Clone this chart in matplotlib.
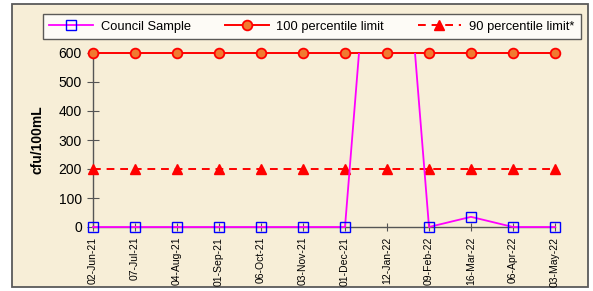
import matplotlib
matplotlib.use("Agg")
import matplotlib.pyplot as plt
from matplotlib.patches import Rectangle
import numpy as np

dates = ["02-Jun-21", "07-Jul-21", "04-Aug-21", "01-Sep-21", "06-Oct-21", "03-Nov-21",
         "01-Dec-21", "12-Jan-22", "09-Feb-22", "16-Mar-22", "06-Apr-22", "03-May-22"]
council = [0, 0, 0, 0, 0, 0, 0, 1800, 0, 35, 0, 0]
limit100 = [600] * 12
limit90 = [200] * 12
yticks = [0, 100, 200, 300, 400, 500, 600]

plt.rcParams['font.family'] = ['Liberation Sans', 'DejaVu Sans']

W, H = 593, 291
fig = plt.figure(figsize=(W / 100, H / 100), dpi=100)
fig.patch.set_facecolor('white')

bg = '#F7EED7'
# outer chart area with border
fig.patches.append(Rectangle((12 / W, 1 - 287 / H), 576 / W, 283 / H, transform=fig.transFigure,
                             facecolor=bg, edgecolor='#5a5a5a', lw=1.3, zorder=-5))

ax = fig.add_axes([93 / W, 1 - 227 / H, 462 / W, 174 / H])
ax.set_zorder(1)
ax.set_facecolor('none')
x = np.arange(len(dates))

clip = Rectangle((-0.1, -0.2), 1.2, 1.2, transform=ax.transAxes, visible=False)
ax.add_patch(clip)

ln, = ax.plot(x, council, color='#FF00FF', lw=1.3, marker='s', ms=7, mfc='none',
              mec='#0000FF', mew=1.0, label='Council Sample', zorder=4)
ln.set_clip_path(clip)
ax.plot(x, limit100, color='#FF0000', lw=1.4, marker='o', ms=7, mfc='#F07A30',
        mec='#FF0000', mew=1.3, label='100 percentile limit', clip_on=False, zorder=3)
ax.plot(x, limit90, color='#FF0000', lw=1.4, ls=(0, (4, 3)), marker='^', ms=7.5,
        mfc='#FF0000', mec='#FF0000', label='90 percentile limit*', clip_on=False, zorder=3)

ax.set_xlim(0, len(dates) - 1)
ax.set_ylim(0, 600)
ax.set_yticks(yticks)
ax.set_xticks(x)
ax.set_xticklabels(dates, rotation=90, fontsize=7.5)
ax.tick_params(axis='y', labelsize=10, direction='inout', length=8, color='#555555', pad=4)
ax.tick_params(axis='x', direction='inout', length=6, color='#555555', pad=4)
for s in ['top', 'right']:
    ax.spines[s].set_visible(False)
for s in ['left', 'bottom']:
    ax.spines[s].set_color('#555555')
    ax.spines[s].set_linewidth(1.0)
ax.spines['bottom'].set_zorder(2)
ax.set_ylabel('cfu/100mL', fontsize=10, fontweight='bold', labelpad=10)

leg = fig.legend(loc='center', bbox_to_anchor=(312 / W, 1 - 26.5 / H), ncol=3, fontsize=9.3,
                 frameon=True, fancybox=False, handlelength=3.4, borderaxespad=0,
                 borderpad=0.5, handletextpad=0.6, columnspacing=2.6)
leg.get_frame().set_edgecolor('#333333')
leg.get_frame().set_linewidth(1.0)
leg.get_frame().set_facecolor('white')
leg.set_zorder(5)

fig.savefig('out.png', dpi=100, facecolor='white')
